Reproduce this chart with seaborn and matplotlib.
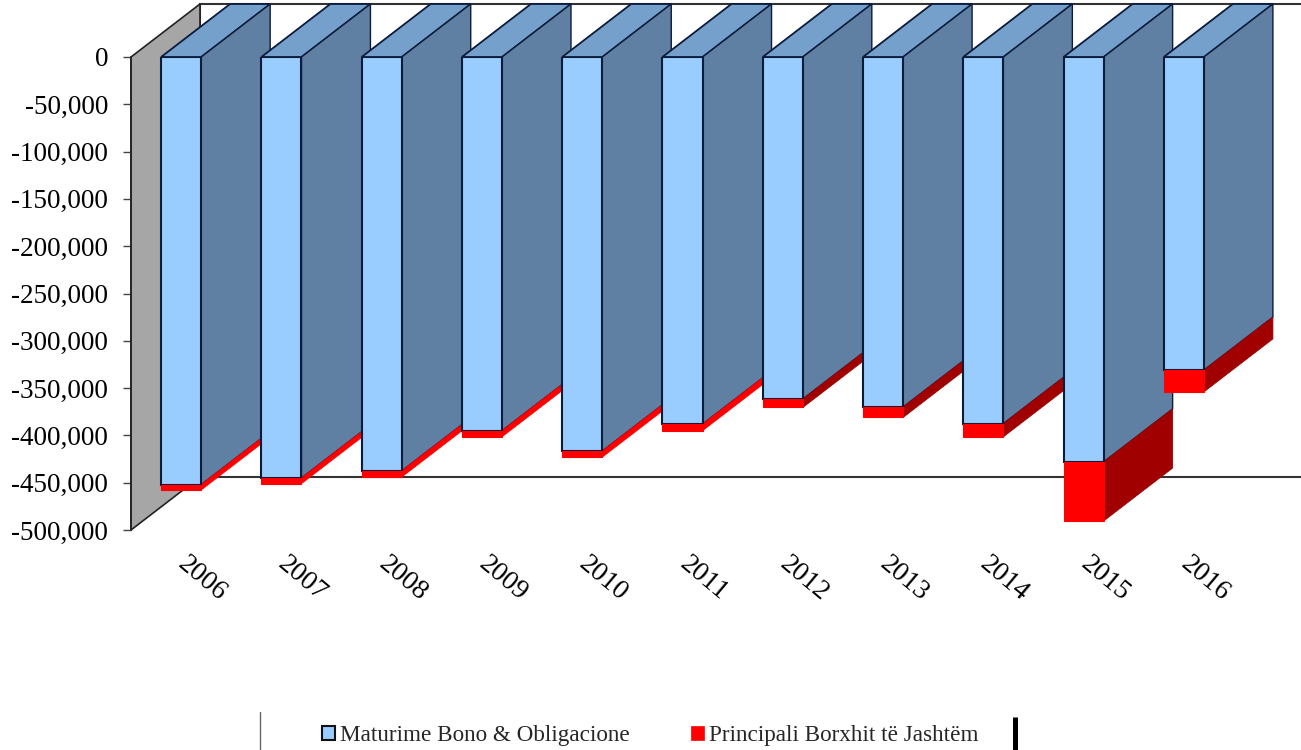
import matplotlib
matplotlib.use("Agg")
import matplotlib.pyplot as plt
from matplotlib.lines import Line2D
from matplotlib.patches import Patch, Polygon
import pandas as pd
import seaborn as sns

years = ["2006", "2007", "2008", "2009", "2010", "2011", "2012", "2013", "2014", "2015", "2016"]
maturime = [452000, 445000, 437500, 395000, 416500, 388000, 361500, 370000, 387500, 428000, 331000]
principali = [5700, 6000, 6500, 6500, 6500, 7000, 9000, 11000, 14000, 62500, 23000]
y_ticks = [0, -50000, -100000, -150000, -200000, -250000, -300000, -350000, -400000, -450000, -500000]

BLUE = "#99CCFF"
BLUE_SIDE = "#5F7FA3"
BLUE_TOP = "#75A0CC"
RED = "#FF0000"
RED_SIDE = "#A00000"
WALL = "#A6A6A6"
EDGE = "#0B1B3A"

sns.set_style("white")
plt.rcParams["font.family"] = ["Liberation Serif", "DejaVu Serif"]

df = pd.DataFrame({"year": years, "maturime": maturime, "principali": principali})
df["blue_end"] = -df["maturime"]
df["red_part"] = -df["principali"]
df["red_end"] = df["blue_end"] + df["red_part"]

fig = plt.figure(figsize=(13.01, 7.5), dpi=100, facecolor="white")
ax = fig.add_axes([131 / 1301, 1 - 530 / 750, 1103 / 1301, 473 / 750])

# depth of the fake 3D box, in data units (69px right, 53px up)
bar_w = 0.4
depth_x = 69 / 100.3
depth_y = 53 / 473 * 500000

sns.barplot(data=df, x="year", y="blue_end", color=BLUE, saturation=1, width=bar_w,
            edgecolor=EDGE, linewidth=1.5, zorder=5, ax=ax)
# red sits on the end of the blue one, drawn above so it hides the dark edge
sns.barplot(data=df, x="year", y="red_part", bottom=df["blue_end"].values, color=RED, saturation=1,
            width=bar_w, edgecolor=RED, linewidth=0.8, zorder=6, ax=ax)

ax.set_xlim(-0.5, 10.5)
ax.set_ylim(-500000, 0)


def face(points, color, edge=None, lw=0, z=3):
    ax.add_patch(Polygon(points, closed=True, facecolor=color, edgecolor=edge or color,
                         linewidth=lw, clip_on=False, zorder=z))


# back wall, left wall
x0, x1 = -0.5, 10.5
y0, y1 = -500000, 0
face([(x0 + depth_x, y0 + depth_y), (x1 + depth_x, y0 + depth_y),
      (x1 + depth_x, y1 + depth_y), (x0 + depth_x, y1 + depth_y)], "white", "#333333", 1.5, 0)
face([(x0, y0), (x0 + depth_x, y0 + depth_y), (x0 + depth_x, y1 + depth_y), (x0, y1)],
     WALL, "#222222", 1.2, 1)

for i, row in df.iterrows():
    left = i - bar_w / 2
    right = i + bar_w / 2
    # top
    face([(left, 0), (right, 0), (right + depth_x, depth_y), (left + depth_x, depth_y)],
         BLUE_TOP, EDGE, 1.3)
    # blue side
    face([(right, 0), (right + depth_x, depth_y),
          (right + depth_x, row["blue_end"] + depth_y), (right, row["blue_end"])],
         BLUE_SIDE, EDGE, 1.0)
    # red side, the very thin ones look plain red in the picture
    side = RED if row["principali"] < 8000 else RED_SIDE
    face([(right, row["blue_end"]), (right + depth_x, row["blue_end"] + depth_y),
          (right + depth_x, row["red_end"] + depth_y), (right, row["red_end"])],
         side, side, 0.6, 4)

# axes
sns.despine(ax=ax, top=True, right=True, bottom=True, left=False)
ax.spines["left"].set_color("#222222")
ax.spines["left"].set_linewidth(1.2)
ax.spines["left"].set_zorder(7)
ax.set_xlabel("")
ax.set_ylabel("")
ax.set_yticks(y_ticks)
ax.set_yticklabels(["{:,}".format(v) for v in y_ticks])
ax.tick_params(axis="y", left=True, length=5.8, width=1, color="#444444", pad=10.5,
               labelsize=19.5, labelcolor="black")
ax.tick_params(axis="x", bottom=False, length=0, pad=22, labelsize=20, labelcolor="black")
plt.setp(ax.get_xticklabels(), rotation=-40, ha="left", va="center", rotation_mode="anchor")

handles = [
    Patch(facecolor=BLUE, edgecolor="#111111", linewidth=1.5, label="Maturime Bono & Obligacione"),
    Patch(facecolor=RED, edgecolor=RED, linewidth=0.5, label="Principali Borxhit të Jashtëm"),
]
fig.legend(handles=handles, loc="center left", bbox_to_anchor=(322 / 1301, 1 - 736 / 750), ncol=2,
           frameon=False, fontsize=16.65, handlelength=0.56, handleheight=0.56, handletextpad=0.2,
           columnspacing=2.68, borderpad=0, borderaxespad=0)

# pieces of the legend frame still visible in the picture
fig.add_artist(Line2D([260 / 1301, 260 / 1301], [0, 1 - 712 / 750], color="#666666", linewidth=1))
fig.add_artist(Line2D([1015 / 1301, 1015 / 1301], [0, 1 - 717 / 750], color="black", linewidth=3.6,
                      solid_capstyle="butt"))

fig.savefig("out.png", dpi=100)
plt.close(fig)
